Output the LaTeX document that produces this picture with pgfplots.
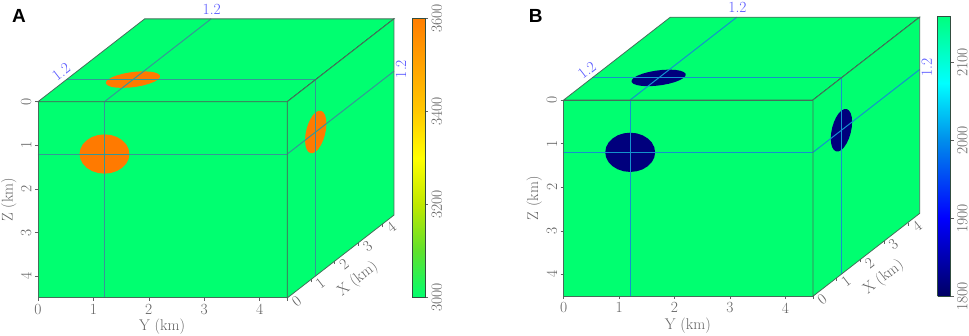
\documentclass[border=0pt]{standalone}
\usepackage{fontspec}
\usepackage{pgfplots}
\usepackage{pgfplotstable}
\pgfplotsset{compat=1.18}
\newfontfamily\panelfont{Liberation Sans}
\definecolor{facegreen}{RGB}{0,255,112}
\definecolor{txtgrey}{RGB}{98,98,98}
\definecolor{edgegrey}{RGB}{70,110,90}
\definecolor{lblblue}{RGB}{85,85,255}
\definecolor{anomA}{RGB}{255,122,0}
\definecolor{anomB}{RGB}{0,0,125}
\definecolor{lineA}{RGB}{55,150,150}
\definecolor{lineB}{RGB}{20,145,205}
\pgfplotstableread{
a b
1.65 1.2
1.635 1.316
1.59 1.425
1.518 1.518
1.425 1.59
1.316 1.635
1.2 1.65
1.084 1.635
0.975 1.59
0.882 1.518
0.81 1.425
0.765 1.316
0.75 1.2
0.765 1.084
0.81 0.975
0.882 0.882
0.975 0.81
1.084 0.765
1.2 0.75
1.316 0.765
1.425 0.81
1.518 0.882
1.59 0.975
1.635 1.084
1.65 1.2
}\circletable
\tikzset{tickfont/.style={font=\fontsize{15.5}{17}\selectfont,text=txtgrey}}
\pgfplotsset{
  face/.style={
    anchor=origin, clip=false, axis on top,
    xmin=0,xmax=4.5,ymin=0,ymax=4.5,
    axis line style={edgegrey,line width=0.8pt},
    tick style={txtgrey,line width=0.5pt},
    major tick length=3pt,
    tick align=outside,
    tick label style={tickfont},
    label style={tickfont},
  },
  bar/.style={
    anchor=south west, scale only axis, width=13pt,
    xmin=0,xmax=1, xtick=\empty, view={0}{90}, axis on top,
    axis line style={edgegrey!70!black,line width=0.8pt},
    ytick pos=right, yticklabel pos=right, tick align=outside,
    major tick length=3pt, tick style={txtgrey,line width=0.5pt},
    yticklabel style={tickfont,rotate=90,anchor=north},
    /pgf/number format/1000 sep={},
    /pgf/number format/assume math mode=true,
  },
  colormap={mapA}{rgb255(0)=(0,255,110) rgb255(1)=(95,225,45) rgb255(2)=(190,232,0) rgb255(3)=(255,255,0) rgb255(4)=(255,200,0) rgb255(6)=(255,126,0)},
  colormap={mapB}{rgb255(0)=(0,0,100) rgb255(100)=(0,0,255) rgb255(200)=(0,140,235) rgb255(274)=(0,255,255) rgb255(360)=(0,255,125)},
}
\newcommand\panel[4]{%
  % front face: Y across, Z down
  \begin{axis}[face, at={(#1pt,#2pt)}, x={(55.4pt,0pt)}, y={(0pt,43.6pt)}, y dir=reverse,
    xtick={0,1,2,3,4}, ytick={0,1,2,3,4},
    xtick pos=lower, xticklabel pos=lower, ytick pos=left, yticklabel pos=left,
    /pgf/number format/assume math mode=true,
    xticklabel style={anchor=north},
    yticklabel style={rotate=90,anchor=south},
    xlabel={Y (km)}, ylabel={Z (km)},
    xlabel style={at={(axis cs:2.24,5.17)},anchor=center},
    ylabel style={at={(axis cs:-0.53,2.25)},anchor=center},
    ]
    \addplot[fill=facegreen,draw=none] coordinates {(0,0) (4.5,0) (4.5,4.5) (0,4.5)} -- cycle;
    \addplot[fill=#3,draw=none] table[x=a,y=b] {\circletable};
    \addplot[#4,line width=1pt] coordinates {(0,1.2) (4.5,1.2)};
    \addplot[#4,line width=1pt] coordinates {(1.2,0) (1.2,4.5)};
  \end{axis}
  % top face: Y across, X back
  \begin{axis}[face, at={(#1pt,#2pt)}, x={(55.4pt,0pt)}, y={(23.7pt,18.4pt)},
    xtick=\empty, ytick=\empty]
    \addplot[fill=facegreen,draw=none] coordinates {(0,0) (4.5,0) (4.5,4.5) (0,4.5)} -- cycle;
    \addplot[fill=#3,draw=none] table[x=b,y=a] {\circletable};
    \addplot[#4,line width=1pt] coordinates {(0,1.2) (4.5,1.2)};
    \addplot[#4,line width=1pt] coordinates {(1.2,0) (1.2,4.5)};
    \addplot[black!85,line width=0.9pt] coordinates {(4.5,0) (4.5,4.5)};
    \node[tickfont,text=lblblue] at (axis cs:0.98,5.04) {1.2};
    \node[tickfont,text=lblblue,rotate=38] at (axis cs:-0.27,1.61) {1.2};
  \end{axis}
  % right face: X across, Z down
  \begin{axis}[face, at={(#1pt+249.3pt,#2pt)}, x={(23.7pt,18.4pt)}, y={(0pt,43.6pt)}, y dir=reverse,
    xtick={0,1,2,3,4}, ytick=\empty,
    xtick pos=lower, xticklabel pos=lower,
    /pgf/number format/assume math mode=true,
    xticklabel style={rotate=38,anchor=center,xshift=7pt,yshift=-6pt},
    xlabel={X (km)},
    xlabel style={at={(axis cs:2.98,5.33)},anchor=center,rotate=38},
    ]
    \addplot[fill=facegreen,draw=none] coordinates {(0,0) (4.5,0) (4.5,4.5) (0,4.5)} -- cycle;
    \addplot[fill=#3,draw=none] table[x=a,y=b] {\circletable};
    \addplot[#4,line width=1pt] coordinates {(0,1.2) (4.5,1.2)};
    \addplot[#4,line width=1pt] coordinates {(1.2,0) (1.2,4.5)};
    \node[tickfont,text=lblblue,rotate=90] at (axis cs:4.8,1.275) {1.2};
  \end{axis}
}
\begin{document}
\begin{tikzpicture}[x=1pt,y=1pt]
  \path[use as bounding box] (0pt,0pt) rectangle (969pt,336pt);
  \panel{38}{234.3}{anomA}{lineA}
  \panel{563.7}{236}{anomB}{lineB}
  \begin{axis}[bar, at={(412pt,38.3pt)}, height=279.4pt, ymin=3000, ymax=3600,
      ytick={3000,3200,3400,3600}, colormap name=mapA, point meta min=3000, point meta max=3600]
    \addplot3[surf,shader=interp,point meta=y] coordinates {
      (0,3000,0) (1,3000,0)

      (0,3100,0) (1,3100,0)

      (0,3200,0) (1,3200,0)

      (0,3300,0) (1,3300,0)

      (0,3400,0) (1,3400,0)

      (0,3500,0) (1,3500,0)

      (0,3600,0) (1,3600,0)
    };
  \end{axis}
  \begin{axis}[bar, at={(937.7pt,39.7pt)}, height=280.3pt, ymin=1800, ymax=2160,
      ytick={1800,1900,2000,2100}, colormap name=mapB, point meta min=1800, point meta max=2160]
    \addplot3[surf,shader=interp,point meta=y] coordinates {
      (0,1800,0) (1,1800,0)

      (0,1900,0) (1,1900,0)

      (0,2000,0) (1,2000,0)

      (0,2074,0) (1,2074,0)

      (0,2160,0) (1,2160,0)
    };
  \end{axis}
  \node[font=\panelfont\bfseries\fontsize{19}{20}\selectfont] at (19pt,320pt) {A};
  \node[font=\panelfont\bfseries\fontsize{19}{20}\selectfont] at (535.7pt,320.3pt) {B};
\end{tikzpicture}
\end{document}
